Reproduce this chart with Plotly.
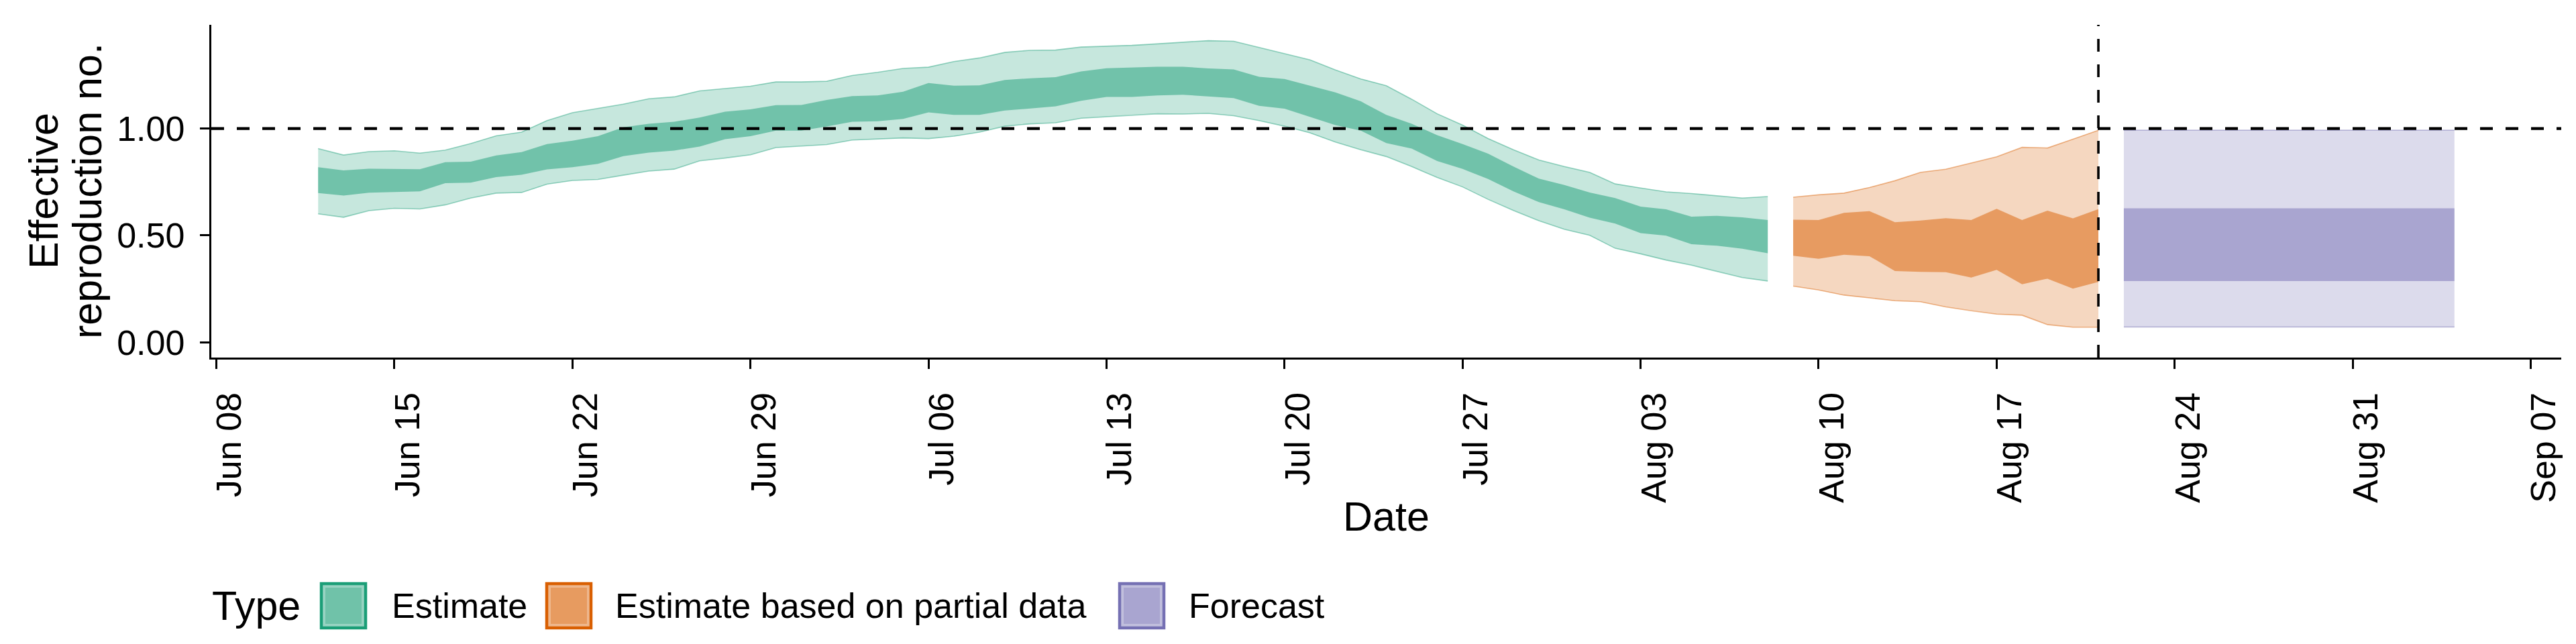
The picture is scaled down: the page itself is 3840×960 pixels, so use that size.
import pandas as pd
import plotly.graph_objects as go

# ---------------- data ----------------
# Estimate: daily, 2020-06-12 .. 2020-08-08
est_start = "2020-06-12"
est_lower_90 = [0.601, 0.585, 0.616, 0.627, 0.624, 0.643, 0.675, 0.698, 0.701, 0.740, 0.757, 0.762, 0.782, 0.801, 0.810, 0.849,
                0.862, 0.877, 0.911, 0.918, 0.925, 0.946, 0.950, 0.956, 0.953, 0.964, 0.983, 1.011, 1.022, 1.027, 1.048,
                1.055, 1.064, 1.069, 1.068, 1.071, 1.060, 1.037, 1.011, 0.980, 0.937, 0.901, 0.869, 0.822, 0.771, 0.727,
                0.669, 0.617, 0.569, 0.529, 0.501, 0.440, 0.414, 0.385, 0.361, 0.333, 0.303, 0.287]
est_lower_50 = [0.698, 0.687, 0.700, 0.702, 0.706, 0.745, 0.747, 0.773, 0.784, 0.809, 0.819, 0.835, 0.871, 0.887, 0.897, 0.916,
                0.950, 0.964, 0.990, 0.990, 1.010, 1.032, 1.034, 1.045, 1.076, 1.064, 1.064, 1.084, 1.095, 1.104, 1.130,
                1.148, 1.148, 1.155, 1.158, 1.150, 1.142, 1.106, 1.093, 1.055, 1.016, 0.990, 0.932, 0.906, 0.848, 0.811,
                0.764, 0.706, 0.656, 0.622, 0.583, 0.556, 0.511, 0.499, 0.459, 0.452, 0.438, 0.417]
est_upper_50 = [0.819, 0.804, 0.812, 0.811, 0.810, 0.843, 0.845, 0.874, 0.890, 0.927, 0.943, 0.964, 1.006, 1.022, 1.032, 1.051,
                1.079, 1.090, 1.109, 1.110, 1.134, 1.152, 1.155, 1.172, 1.213, 1.200, 1.202, 1.227, 1.235, 1.240, 1.267,
                1.282, 1.285, 1.289, 1.289, 1.281, 1.276, 1.242, 1.232, 1.200, 1.169, 1.127, 1.064, 1.022, 0.969, 0.927,
                0.883, 0.822, 0.766, 0.736, 0.701, 0.675, 0.635, 0.622, 0.588, 0.592, 0.585, 0.572]
est_upper_90 = [0.906, 0.876, 0.892, 0.896, 0.885, 0.899, 0.930, 0.966, 0.983, 1.037, 1.074, 1.093, 1.114, 1.139, 1.148, 1.176,
                1.188, 1.198, 1.218, 1.218, 1.221, 1.248, 1.263, 1.281, 1.287, 1.313, 1.330, 1.356, 1.366, 1.367, 1.381,
                1.385, 1.389, 1.396, 1.403, 1.411, 1.408, 1.379, 1.350, 1.321, 1.274, 1.232, 1.200, 1.137, 1.069, 1.016,
                0.953, 0.901, 0.853, 0.822, 0.795, 0.741, 0.722, 0.704, 0.696, 0.685, 0.675, 0.682]

# Estimate based on partial data: daily, 2020-08-09 .. 2020-08-21
partial_start = "2020-08-09"
partial_lower_90 = [0.263, 0.245, 0.221, 0.208, 0.195, 0.190, 0.166, 0.148, 0.132, 0.127, 0.083, 0.071, 0.071]
partial_lower_50 = [0.405, 0.391, 0.410, 0.403, 0.334, 0.330, 0.328, 0.303, 0.339, 0.272, 0.298, 0.251, 0.283]
partial_upper_50 = [0.574, 0.572, 0.606, 0.614, 0.562, 0.570, 0.581, 0.572, 0.625, 0.572, 0.616, 0.580, 0.623]
partial_upper_90 = [0.679, 0.690, 0.698, 0.724, 0.756, 0.795, 0.810, 0.840, 0.868, 0.912, 0.909, 0.950, 0.992]

# Forecast: flat band 2020-08-22 .. 2020-09-04
forecast_dates = ["2020-08-22", "2020-09-04"]
forecast_lower_90 = [0.072, 0.072]
forecast_lower_50 = [0.287, 0.287]
forecast_upper_50 = [0.627, 0.627]
forecast_upper_90 = [0.992, 0.992]

type_labels = ["Estimate", "Estimate based on partial data", "Forecast"]
y_tick_values = [0.0, 0.5, 1.0]
y_tick_labels = ["0.00", "0.50", "1.00"]
x_tick_first = "2020-06-08"
reference_rt = 1.0
x_title = "Date"
y_title_lines = ["Effective", "reproduction no."]
legend_title = "Type"

# ---------------- styling ----------------
FONT = "Liberation Sans, Arial, Helvetica, sans-serif"
COLORS = {"Estimate": (27, 158, 119),
          "Estimate based on partial data": (217, 95, 2),
          "Forecast": (117, 112, 179)}


def rgba(c, a):
    return f"rgba({c[0]},{c[1]},{c[2]},{a})"


est_dates = list(pd.date_range(est_start, periods=len(est_upper_90), freq="D"))
partial_dates = list(pd.date_range(partial_start, periods=len(partial_upper_90), freq="D"))
fc_dates = list(pd.to_datetime(forecast_dates))

series = [
    ("Estimate", est_dates, est_lower_90, est_lower_50, est_upper_50, est_upper_90),
    ("Estimate based on partial data", partial_dates, partial_lower_90, partial_lower_50, partial_upper_50, partial_upper_90),
    ("Forecast", fc_dates, forecast_lower_90, forecast_lower_50, forecast_upper_50, forecast_upper_90),
]

fig = go.Figure()
for name, d, lo90, lo50, up50, up90 in series:
    c = COLORS[name]
    # outer (90%) band
    fig.add_trace(go.Scatter(x=d + d[::-1], y=list(up90) + list(lo90)[::-1], fill="toself",
                             fillcolor=rgba(c, 0.25), line=dict(width=0), mode="lines",
                             name=name, showlegend=False, hoverinfo="skip"))
    # inner (50%) band
    fig.add_trace(go.Scatter(x=d + d[::-1], y=list(up50) + list(lo50)[::-1], fill="toself",
                             fillcolor=rgba(c, 0.5), line=dict(width=0), mode="lines",
                             name=name, showlegend=False, hoverinfo="skip"))
    # ribbon outlines
    for edge in (up90, lo90):
        fig.add_trace(go.Scatter(x=d, y=edge, mode="lines", line=dict(color=rgba(c, 0.45), width=1.6),
                                 showlegend=False, hoverinfo="skip"))

# reference lines
fig.add_hline(y=reference_rt, line=dict(color="black", width=4.2, dash="19px,19px"), layer="above")
fig.add_vline(x=partial_dates[-1], line=dict(color="black", width=3.6, dash="19px,19px"), layer="above")

# ---------------- geometry helpers ----------------
L, R, T, B = 307, 30, 29, 435
W, H = 3840, 960
PW, PH = W - L - R, H - T - B


def px(x):
    return (x - L) / PW


def py(y):
    return (H - B - y) / PH


# axis titles
fig.add_annotation(x=0.5, y=py(762), xref="paper", yref="paper", text=x_title, showarrow=False,
                   xanchor="center", yanchor="middle", font=dict(family=FONT, size=61, color="black"))
for line_text, cx in zip(y_title_lines, [57, 122]):
    fig.add_annotation(x=px(cx), y=0.5, xref="paper", yref="paper", text=line_text, showarrow=False,
                       textangle=-90, xanchor="center", yanchor="middle",
                       font=dict(family=FONT, size=61, color="black"))

# manual legend (ggplot style, bottom-left)
legend_cy = 895
key_x = [471, 807, 1661]
text_x = [574, 907, 1762]
fig.add_annotation(x=px(306), y=py(legend_cy), xref="paper", yref="paper", text=legend_title, showarrow=False,
                   xanchor="left", yanchor="middle", font=dict(family=FONT, size=61, color="black"))
for lab, kx, tx in zip(type_labels, key_x, text_x):
    c = COLORS[lab]
    fig.add_shape(type="rect", xref="paper", yref="paper", x0=px(kx), x1=px(kx + 66),
                  y0=py(legend_cy + 33), y1=py(legend_cy - 33),
                  fillcolor=rgba(c, 0.45), line=dict(color=rgba(c, 1), width=4.5), layer="above")
    fig.add_shape(type="rect", xref="paper", yref="paper", x0=px(kx + 6), x1=px(kx + 60),
                  y0=py(legend_cy + 27), y1=py(legend_cy - 27),
                  fillcolor=rgba(c, 0.32), line=dict(width=0), layer="above")
    fig.add_annotation(x=px(tx), y=py(legend_cy), xref="paper", yref="paper", text=lab, showarrow=False,
                       xanchor="left", yanchor="middle", font=dict(family=FONT, size=52, color="black"))

fig.update_layout(
    width=W, height=H,
    margin=dict(l=L, r=R, t=T, b=B, autoexpand=False),
    paper_bgcolor="white", plot_bgcolor="white",
    font=dict(family=FONT, color="black"),
    showlegend=False,
)
fig.update_xaxes(
    type="date",
    range=["2020-06-07 19:12", "2020-09-08 04:48"],
    tick0=x_tick_first, dtick=7 * 86400000, tickformat="%b %d", tickangle=-90,
    ticks="outside", ticklen=14, tickwidth=3, tickcolor="black",
    showline=True, linewidth=3.4, linecolor="black", showgrid=False, zeroline=False,
    tickfont=dict(family=FONT, size=52, color="black"),
    ticklabelshift=20, ticklabelstandoff=14,
    automargin=False,
)
fig.update_yaxes(
    range=[-0.071, 1.485],
    tickvals=y_tick_values, ticktext=y_tick_labels,
    ticks="outside", ticklen=14, tickwidth=3, tickcolor="black",
    showline=True, linewidth=3.4, linecolor="black", showgrid=False, zeroline=False,
    tickfont=dict(family=FONT, size=52, color="black"),
    ticklabelstandoff=12,
    automargin=False,
)

fig.write_html("out.html")
